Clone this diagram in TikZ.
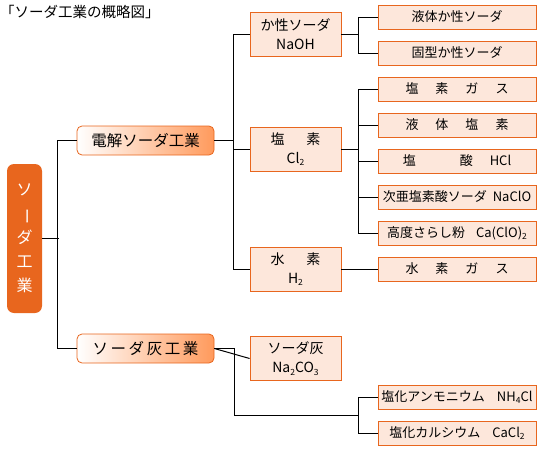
\documentclass[tikz,border=0pt]{standalone}
\usepackage{fontspec}
\setmainfont{Noto Sans CJK JP}
\usepackage{graphicx}

\definecolor{soda}{HTML}{E8661E}
\definecolor{sodalight}{HTML}{FDE7DB}
\definecolor{sodamid}{HTML}{FF9A5C}

\newcommand{\lo}[1]{\raisebox{-0.3ex}{\fontsize{8.5}{8.5}\selectfont #1}}
\newcommand{\gapw}{\hspace{17pt}}

\begin{document}
\begin{tikzpicture}[x=1pt, y=-1pt,
		lvone/.style={draw=soda, line width=0.8pt, rounded corners=5pt, left color=white, right color=sodamid,
			minimum width=137pt, minimum height=29pt, font=\fontsize{15.5}{18}\selectfont},
		lvtwo/.style={draw=soda, line width=0.8pt, fill=sodalight, minimum width=91pt, minimum height=44pt,
			align=center, font=\fontsize{14}{19}\selectfont},
		leaf/.style={draw=soda, line width=0.8pt, fill=sodalight, minimum width=158pt, minimum height=24pt,
			inner sep=0pt, font=\fontsize{13}{15}\selectfont},
		link/.style={line width=1pt}]
		\useasboundingbox (0,0) rectangle (560,450);
	
		\node[anchor=west, inner sep=0pt, font=\fontsize{14.5}{16}\selectfont] (title) at (0,12) {「ソーダ工業の概略図」};
		\node[fill=soda, rounded corners=7pt, minimum width=35pt, minimum height=149pt, text=white, align=center,
			font=\fontsize{16}{24}\selectfont] (root) at (24.5,238.5) {ソ\\\rotatebox[origin=c]{-90}{ー}\\ダ\\工\\業};
	
		\node[lvone] (denkai) at (145.5,140.5) {電解ソーダ工業};
		\node[lvone] (haikogyo) at (145.5,348.5) {ソ\,ー\,ダ\,灰\,工\,業};
	
		\node[lvtwo] (naoh) at (295.5,34.5) {か性ソーダ\\NaOH};
		\node[lvtwo] (cl2) at (295.5,149) {塩\hspace{22pt}素\\Cl\lo{2}};
		\node[lvtwo] (h2) at (295.5,269) {水\hspace{22pt}素\\H\lo{2}};
		\node[lvtwo] (ash) at (295.5,358.5) {ソーダ灰\\Na\lo{2}CO\lo{3}};
	
		\node[leaf] (ekitai) at (457,17) {液体か性ソーダ};
		\node[leaf] (kotai) at (457,53) {固型か性ソーダ};
		\node[leaf] (engas) at (457,89) {塩\gapw 素\gapw ガ\gapw ス};
		\node[leaf] (ekien) at (457,125) {液\gapw 体\gapw 塩\gapw 素};
		\node[leaf] (ensan) at (457,161) {塩\hspace{44pt}酸\hspace{17pt}HCl};
		\node[leaf] (jia) at (457,197) {次亜塩素酸ソーダ\hspace{6pt}NaClO};
		\node[leaf] (sarashi) at (457,233) {高度さらし粉\hspace{11pt}Ca(ClO)\lo{2}};
		\node[leaf] (suigas) at (457,269) {水\gapw 素\gapw ガ\gapw ス};
		\node[leaf] (nh4cl) at (457,397) {塩化アンモニウム\hspace{12pt}NH\lo{4}Cl};
		\node[leaf] (cacl2) at (457,433) {塩化カルシウム\hspace{12pt}CaCl\lo{2}};
	
		\draw[link] (root.east) -- ++(17,0);
		\draw[link] (denkai.west) -- ++(-19,0) |- (haikogyo.west);
		\draw[link] (denkai.east) -- ++(20,0);
		\draw[link] (naoh.west) -- ++(-16,0) |- (h2.west);
		\draw[link] (cl2.west) -- ++(-16,0);
		\draw[link] (naoh.east) -- ++(18,0);
		\draw[link] (ekitai.west) -- ++(-19,0) |- (kotai.west);
		\draw[link] (cl2.east) -- ++(18,0);
		\draw[link] (engas.west) -- ++(-19,0) |- (sarashi.west);
		\foreach \n in {ekien, ensan, jia}
			\draw[link] (\n.west) -- ++(-19,0);
		\draw[link] (h2.east) -- (suigas.west);
		\draw[link] (haikogyo.east) -- (ash.west);
		\coordinate (ashjoin) at (359,415);
		\draw[link] (haikogyo.east) -- ++(20,0) |- (ashjoin);
		\draw[link] (nh4cl.west) -- ++(-19,0) |- (cacl2.west);
	\end{tikzpicture}
\end{document}
